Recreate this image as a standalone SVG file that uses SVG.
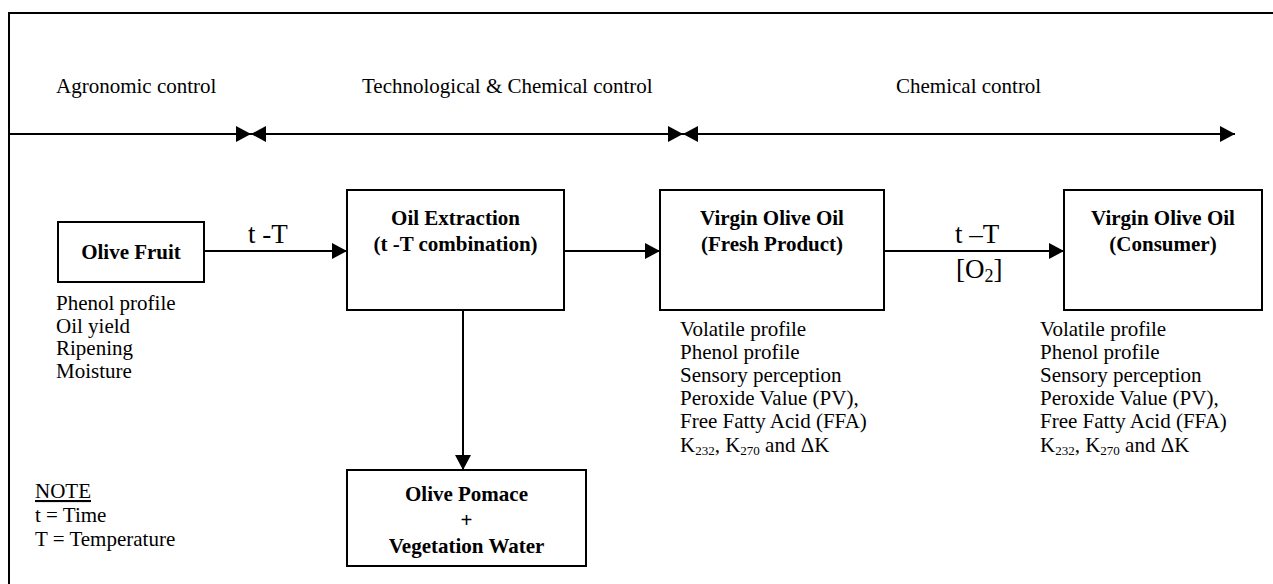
<svg xmlns="http://www.w3.org/2000/svg" width="1273" height="584" viewBox="0 0 1273 584" font-family="'Liberation Serif', 'Times New Roman', Tinos, 'DejaVu Serif', serif">
<defs>
<style>
.h{font-size:21px}
.l{font-size:21px}
.b{font-size:21px;font-weight:bold;text-anchor:middle}
.t{font-size:27px}
.box{fill:#fff;stroke:#000;stroke-width:2}
.ln{stroke:#000;stroke-width:2;fill:none}
</style>
<marker id="ah" viewBox="0 0 15 16" refX="15" refY="8" markerWidth="15" markerHeight="16" markerUnits="userSpaceOnUse" orient="auto"><path d="M0,0 L15,8 L0,16 Z" fill="#000"/></marker>
</defs>
<rect x="0" y="0" width="1273" height="584" fill="#fff"/>
<g id="frame">
<path class="ln" d="M9,584 V13 H1273"/>
</g>
<g id="headers">
<text class="h" x="56" y="93">Agronomic control</text>
<text class="h" x="362" y="93">Technological &amp; Chemical control</text>
<text class="h" x="896" y="93">Chemical control</text>
</g>
<g id="connectors">
<line class="ln" x1="9" y1="134" x2="251" y2="134" marker-end="url(#ah)"/>
<line class="ln" x1="683" y1="134" x2="251" y2="134" marker-end="url(#ah)"/>
<line class="ln" x1="251" y1="134" x2="683" y2="134" marker-end="url(#ah)"/>
<line class="ln" x1="1235" y1="134" x2="683" y2="134" marker-end="url(#ah)"/>
<line class="ln" x1="683" y1="134" x2="1235" y2="134" marker-end="url(#ah)"/>
<line class="ln" x1="204" y1="251" x2="347" y2="251" marker-end="url(#ah)"/>
<line class="ln" x1="564" y1="251" x2="660" y2="251" marker-end="url(#ah)"/>
<line class="ln" x1="884" y1="251" x2="1064" y2="251" marker-end="url(#ah)"/>
<line class="ln" x1="463" y1="310" x2="463" y2="470" marker-end="url(#ah)"/>
<text class="t" x="248" y="243">t -T</text>
<text class="t" x="955" y="243">t –T</text>
<text class="t" x="956" y="278">[O<tspan font-size="18" dy="4">2</tspan><tspan dy="-4">]</tspan></text>
</g>
<g id="olive-fruit">
<rect class="box" x="58" y="222" width="146" height="60"/>
<text class="b" x="131" y="259">Olive Fruit</text>
</g>
<g id="oil-extraction">
<rect class="box" x="347" y="190" width="217" height="120"/>
<text class="b" x="455.5" y="225">Oil Extraction</text>
<text class="b" x="455.5" y="251">(t -T combination)</text>
</g>
<g id="voo-fresh">
<rect class="box" x="660" y="190" width="224" height="120"/>
<text class="b" x="772" y="225">Virgin Olive Oil</text>
<text class="b" x="772" y="251">(Fresh Product)</text>
</g>
<g id="voo-consumer">
<rect class="box" x="1064" y="190" width="198" height="120"/>
<text class="b" x="1163" y="225">Virgin Olive Oil</text>
<text class="b" x="1163" y="251">(Consumer)</text>
</g>
<g id="pomace">
<rect class="box" x="347" y="470" width="239" height="96"/>
<text class="b" x="466.5" y="501">Olive Pomace</text>
<text class="b" x="466.5" y="527" font-weight="normal">+</text>
<text class="b" x="466.5" y="553">Vegetation Water</text>
</g>
<g id="fruit-props">
<text class="l" x="56" y="310">Phenol profile</text>
<text class="l" x="56" y="333">Oil yield</text>
<text class="l" x="56" y="355">Ripening</text>
<text class="l" x="56" y="378">Moisture</text>
</g>
<g id="note">
<text class="l" x="35" y="498" text-decoration="underline">NOTE</text>
<text class="l" x="35" y="522">t = Time</text>
<text class="l" x="35" y="546">T = Temperature</text>
</g>
<g id="fresh-props">
<text class="l" x="680" y="336">Volatile profile</text>
<text class="l" x="680" y="359">Phenol profile</text>
<text class="l" x="680" y="382">Sensory perception</text>
<text class="l" x="680" y="405">Peroxide Value (PV),</text>
<text class="l" x="680" y="428">Free Fatty Acid (FFA)</text>
<text class="l" x="680" y="452">K<tspan font-size="13" dy="3">232</tspan><tspan dy="-3">, K</tspan><tspan font-size="13" dy="3">270</tspan><tspan dy="-3"> and ΔK</tspan></text>
</g>
<g id="consumer-props">
<text class="l" x="1040" y="336">Volatile profile</text>
<text class="l" x="1040" y="359">Phenol profile</text>
<text class="l" x="1040" y="382">Sensory perception</text>
<text class="l" x="1040" y="405">Peroxide Value (PV),</text>
<text class="l" x="1040" y="428">Free Fatty Acid (FFA)</text>
<text class="l" x="1040" y="452">K<tspan font-size="13" dy="3">232</tspan><tspan dy="-3">, K</tspan><tspan font-size="13" dy="3">270</tspan><tspan dy="-3"> and ΔK</tspan></text>
</g>
</svg>
